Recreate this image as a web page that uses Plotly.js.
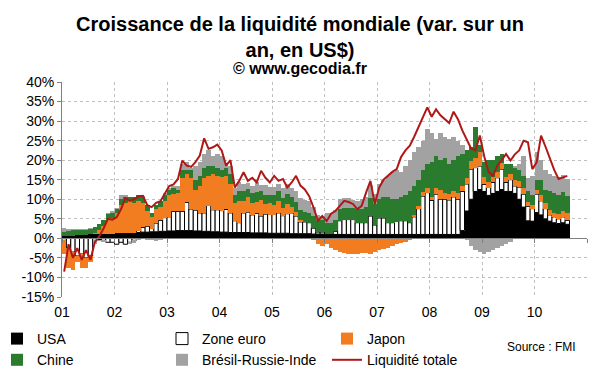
<!DOCTYPE html>
<html><head><meta charset="utf-8">
<script src="https://cdn.plot.ly/plotly-3.0.1.min.js"></script>
<style>html,body{margin:0;padding:0;background:#fff}#chart{width:600px;height:372px}</style>
</head><body><div id="chart"></div>
<script>
// Year labels (start of each year, 2001..2010)
const yearLabels = ['01','02','03','04','05','06','07','08','09','10'];
const yTicks = [-15,-10,-5,0,5,10,15,20,25,30,35,40];

// Monthly values, Jan 2001 .. Aug 2010 (% year-on-year, US$)
const usa = [
0.5,0.6,0.7,0.8,0.8,0.9,1.0,1.0,1.1,1.1,1.2,1.2,
1.3,1.3,1.4,1.4,1.5,1.5,1.6,1.6,1.7,1.7,1.8,1.8,
1.9,1.9,2.0,2.0,2.0,2.0,1.9,1.9,1.8,1.8,1.7,1.7,
1.6,1.6,1.5,1.5,1.5,1.5,1.5,1.4,1.4,1.4,1.4,1.3,
1.3,1.3,1.3,1.3,1.2,1.2,1.2,1.2,1.2,1.1,1.1,1.1,
1.0,1.0,1.0,1.0,1.0,1.0,1.0,1.0,1.0,1.0,1.0,1.0,
1.0,1.0,1.0,1.0,1.0,1.0,1.0,1.0,1.0,1.0,1.0,1.0,
1.0,1.0,1.0,1.0,1.0,1.0,1.0,2.0,7.0,10.0,12.0,12.5,
12.0,11.0,11.5,12.0,12.5,12.0,12.0,11.5,10.0,8.0,4.5,4.4,
6.6,6.0,5.0,4.4,4.0,3.8,4.0,3.6];

const zoneEuro = [
-0.5,-2.5,-3.5,-4.5,-4,-5,-4.5,-0.5,-0.3,-0.5,-1,-1,
-1.5,-1,-1.5,-1,-0.5,0.5,1.2,1.5,0.8,2.2,2.8,3.5,
3.6,5,4.9,4.9,7.2,5.5,5.3,4.6,4.7,6.6,5.6,5.6,
5.5,5.8,5,3,2.5,5,5.2,4.6,5,4.3,4.8,4.8,
4.8,5.2,4.5,5,5.3,4.5,3,3,2.8,1.5,0.5,0.5,
0.2,0.2,0.8,3.5,3.8,3.8,3.8,3,3,3,4.7,2.4,
4.2,4.2,3,3,3.3,3.5,3.5,3,4.5,6.6,9.8,10.7,
8.7,10.3,9,9,8.8,9.6,9,10,6.9,7.7,6.1,6,
1.8,2,2.8,3.5,5.2,2.3,3,1.9,3.1,3.3,3.7,3.2,
4.7,3.6,2.6,1.6,1.5,1.2,1.5,1];

const japon = [
-3.5,-5,-4.5,-1.5,-3.5,-2.5,-1.5,0.5,1,2,3.5,4,
5.2,7.2,7.6,8.1,7.5,7.5,6.2,3.9,3,3.6,3.4,4.2,
5.5,4.4,4.6,8.6,7.3,8,5.3,7,9,7.6,9.2,8.7,
8.5,8.5,7.5,4.5,5.5,3,4,3,3,4,2.5,3,
2.5,3,2,2.5,1.5,1,0.5,0,0,-0.5,-1.5,-2,
-1.5,-2.5,-3,-3.5,-3.8,-4,-4,-4,-3.8,-3.8,-4,-3.5,
-3,-2.8,-2.5,-2,-1.5,-1.2,-1,-0.5,0.5,0.8,1,1.2,
1,1.5,2.5,1.5,1.5,1.5,1.5,1.5,1.5,2,2.5,3.5,
2,1.5,1.5,1.5,1.5,1.5,1.5,1.5,1.5,1.5,1.2,1,
1.2,1.5,1.5,1.2,1,1.2,1.5,1.8];

const chine = [
1.2,1.3,1.4,1.4,1.4,1.3,1.3,1.5,1.6,1.7,1.5,1.2,
1,1.5,1.5,1,1.5,1.5,1.5,1.5,1,1,1.5,1.5,
1.5,1.7,1,2,1,2,2.5,2.5,2.5,2.5,2,2,
2,2,2.5,2,2.5,2.5,2,2.5,2.5,2.5,2.5,2,
2.5,2.5,2.5,2.5,2.5,2.5,2.5,2.5,2.5,3,3,3,
2.8,2.8,3,3,3,3,3,3.5,3.5,4,4.5,5.5,
4.8,5.3,6.5,6,5.7,6,6.5,8,7.5,6.6,5.7,6.1,
8.8,8.2,7.5,9,7.7,7.9,9.5,8,7.1,3.8,7.9,2,
3.7,5.5,4.2,4,2.3,3.2,2.5,3.1,2.9,3.2,2.6,2.4,
2.5,3.9,3.4,4.8,5,4.8,4.8,4.5];

const bresilRussieInde = [
1,0.5,0.3,0.2,0.2,0.2,0.3,-1,-0.5,-0.5,0.3,0.5,
0.3,1,0.5,-0.5,-0.8,-0.5,0.3,-0.5,-0.3,-0.8,-0.5,0.5,
0.5,0.5,1,1.5,2,0.5,3.5,3.5,3.5,4,2.5,3.5,
3.5,1.5,2,2,2.5,2,1.5,2,2.5,1.5,2.5,2,
2,2,2.5,2.5,2.5,3,3,3,3,2.5,1.5,1,
2.5,2.5,2.5,2.5,2.5,2.5,2,2,2.5,2.5,3.5,2.5,
4,4.5,5.5,7,7.5,6.5,7.5,8,8.5,8.5,7.5,9,
7.5,4.5,7,5.5,6.5,6,4,2.5,-0.5,-2,-3,-3.5,
-4,-3.5,-3,-2.5,-2,-1.5,-1,0.5,1.5,5,3.5,5,
7,5,5,4.5,4.5,4.7,4.4,4.4];

const liquiditeTotale = [
-8.5,-1.5,-5,-2.5,-5.5,-3,-5.5,-1,0.5,2.5,5,4.8,
5.4,7.5,10.3,9.6,10,10.8,10.9,8.5,8,9.1,9.5,11.5,
13.4,13.8,15.2,19.9,18.6,18.3,19.5,21.2,25.6,22.9,23.3,24,
22.5,18.6,20,13,14.7,16.9,14.7,15.5,14.3,17.3,15.5,14.3,
16,14.7,15.2,13,14.3,16,13.5,12.5,10.8,7.9,4.5,5.7,
4.4,6.3,7,8.3,9.6,9.3,8.8,7.5,8.3,11.7,14.7,8.8,
13,15,16,17,17.7,20.8,22.5,23.7,26,28.5,30.6,33.5,
31.1,33,31.5,30.5,29.5,32.4,30.5,27.6,25.5,23,22.5,26.3,
21,17,16,18.6,20,21.6,19.9,21.5,22.5,25,24.6,17.7,
19.5,26.3,23.5,20.5,17.5,15.2,15.5,16];

const monthIdx = usa.map((_, i) => i);
const FONT = 'Liberation Sans, Arial, sans-serif';

const traces = [
  {type:'bar', name:'USA', x:monthIdx, y:usa, marker:{color:'#000000', line:{width:0}}},
  {type:'bar', name:'Zone euro', x:monthIdx, y:zoneEuro, marker:{color:'#ffffff', line:{color:'#000000', width:1}}},
  {type:'bar', name:'Japon', x:monthIdx, y:japon, marker:{color:'#f27d20', line:{width:0}}},
  {type:'bar', name:'Chine', x:monthIdx, y:chine, marker:{color:'#2b7b2f', line:{width:0}}},
  {type:'bar', name:'Brésil-Russie-Inde', x:monthIdx, y:bresilRussieInde, marker:{color:'#a2a2a2', line:{width:0}}},
  {type:'scatter', mode:'lines', name:'Liquidité totale', x:monthIdx, y:liquiditeTotale, xaxis:'x2', yaxis:'y',
   line:{color:'#b01818', width:2}}
];

const L = 62, R = 13, T = 82, B = 75, W = 600, H = 372;
const plotH = H - T - B, plotW = W - L - R;
const px2x = p => (p - L) / plotW;
const py2y = p => (H - B - p) / plotH;
const yMin = -15, yMax = 40;

// year boundaries: gridlines and labels sit on them; last one closes the axis
const yearStarts = yearLabels.map((_, k) => 12*k - 0.5).concat([12*yearLabels.length - 0.5]);

const layout = {
  width:W, height:H,
  margin:{l:L, r:R, t:T, b:B, pad:0, autoexpand:false},
  paper_bgcolor:'#ffffff', plot_bgcolor:'#ffffff',
  barmode:'relative', bargap:0,
  font:{family:FONT, color:'#000000', size:14},
  showlegend:true,
  title:{
    text:'Croissance de la liquidité mondiale (var. sur un<br>an, en US$)',
    font:{family:FONT, size:20, weight:'bold', color:'#000'},
    xref:'container', x:0.5, xanchor:'center',
    yref:'container', y:1 - 31/H, yanchor:'middle'
  },
  xaxis:{
    range:[-0.5, 119.5],
    tickmode:'array',
    tickvals:yearStarts,
    ticktext:yearLabels.concat(['']),
    showgrid:true, gridcolor:'#bfbfbf', griddash:'dot', gridwidth:1,
    zeroline:false, showline:false, ticks:'',
    ticklabelstandoff:5,
    tickfont:{size:14},
    fixedrange:true
  },
  // axis line drawn through 0 %, with its tick marks at year boundaries
  xaxis2:{
    matches:'x', overlaying:'x', anchor:'free', position:(0 - yMin)/(yMax - yMin), side:'bottom',
    tickmode:'array', tickvals:yearStarts,
    showticklabels:false, showgrid:false, zeroline:false,
    showline:true, linecolor:'#808080', linewidth:1,
    ticks:'outside', ticklen:4, tickcolor:'#808080',
    fixedrange:true
  },
  yaxis:{
    range:[yMin, yMax],
    tickmode:'array',
    tickvals:yTicks,
    ticktext:yTicks.map(v => (v < 0 ? '-' + Math.abs(v) : String(v)) + '%'),
    showgrid:true, gridcolor:'#bfbfbf', griddash:'dot', gridwidth:1,
    zeroline:true, zerolinecolor:'#808080', zerolinewidth:1,
    showline:true, linecolor:'#808080', linewidth:1,
    ticks:'outside', ticklen:4, tickcolor:'#808080',
    tickfont:{size:14},
    fixedrange:true
  },
  legend:{
    orientation:'h', traceorder:'normal',
    x:px2x(-3), xanchor:'left', xref:'paper',
    y:py2y(323), yanchor:'top',
    entrywidth:120,
    font:{family:FONT, size:14},
    bgcolor:'rgba(0,0,0,0)', itemclick:false
  },
  annotations:[
    {text:'<b>© www.gecodia.fr</b>', xref:'paper', yref:'paper', x:px2x(300), y:py2y(68),
     xanchor:'center', yanchor:'middle', showarrow:false, font:{family:FONT, size:16}},
    {text:'Source : FMI', xref:'paper', yref:'paper', x:px2x(541), y:py2y(347),
     xanchor:'center', yanchor:'middle', showarrow:false, font:{family:FONT, size:12}}
  ]
};

Plotly.newPlot('chart', traces, layout, {displayModeBar:false, staticPlot:true});
</script>
</body></html>
